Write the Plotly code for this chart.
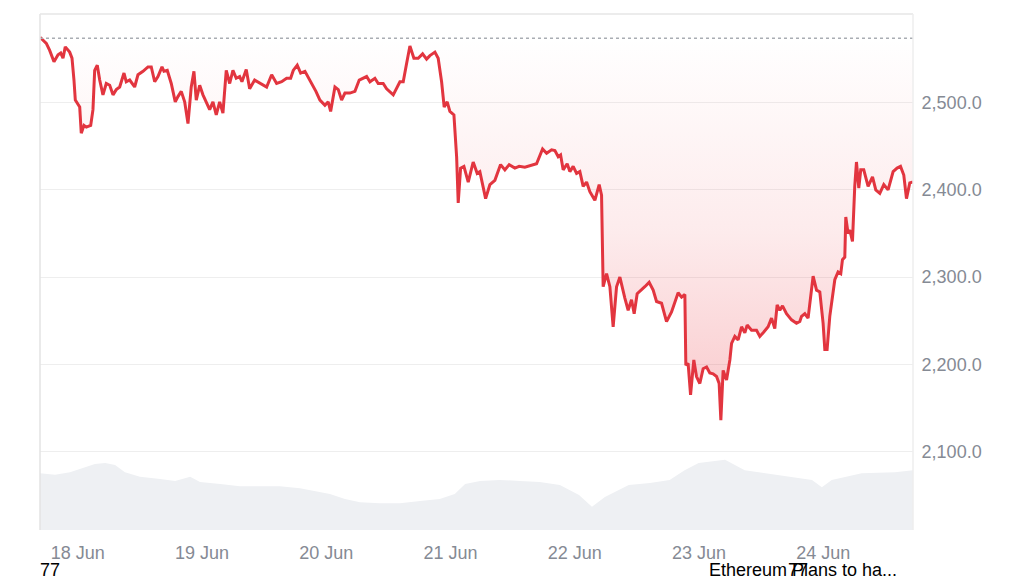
import pandas as pd
import plotly.graph_objects as go

# ---- data (ETH price, 17 Jun 16:43 -> 24 Jun ~17:20) ----
start_time = "2025-06-17 16:43"
open_price = 2574

price_hours = [0.0, 1.22, 1.87, 2.70, 3.48, 4.00, 4.44, 4.88, 5.73, 6.18, 6.56, 6.82, 7.67, 7.97, 8.50, 8.94,
               9.79, 10.23, 10.56, 11.06, 11.53, 12.16, 12.80, 13.46, 14.10, 14.73, 15.39, 16.22, 16.66, 17.32,
               18.28, 18.92, 19.89, 20.85, 21.49, 22.15, 22.78, 23.56, 23.94, 24.58, 25.35, 26.12, 26.64, 27.28,
               27.94, 28.58, 29.21, 29.73, 30.18, 30.84, 31.47, 32.11, 32.77, 33.40, 34.04, 34.70, 35.33, 35.97,
               36.63, 37.26, 37.90, 38.56, 39.00, 39.83, 40.49, 41.45, 42.42, 43.77, 44.74, 45.70, 46.67, 47.63,
               48.41, 48.91, 49.68, 50.34, 51.17, 52.13, 52.77, 53.29, 54.06, 55.03, 55.66, 56.13, 56.96, 57.60,
               58.25, 58.89, 59.85, 60.82, 61.65, 62.42, 63.08, 63.72, 64.68, 65.32, 66.28, 66.94, 68.22, 69.51,
               70.15, 70.80, 71.44, 72.21, 73.04, 73.89, 74.66, 75.30, 76.27, 76.90, 77.56, 78.06, 78.64, 79.16,
               79.94, 80.46, 80.77, 81.23, 81.87, 82.70, 83.66, 84.43, 84.95, 86.06, 86.89, 87.85, 88.95, 89.78,
               90.61, 91.71, 92.54, 93.64, 94.28, 95.25, 95.90, 97.06, 97.84, 98.80, 99.44, 100.08, 100.54,
               101.04, 101.81, 102.33, 102.97, 103.63, 104.26, 104.90, 105.56, 106.19, 107.16, 107.99, 108.45,
               108.76, 109.42, 110.06, 110.69, 111.35, 111.99, 112.95, 113.59, 114.24, 114.75, 115.33, 116.18,
               116.81, 117.64, 118.42, 119.07, 120.04, 121.00, 121.97, 123.24, 123.90, 124.54, 124.73, 125.17,
               125.64, 126.27, 126.79, 127.43, 128.07, 128.73, 129.36, 130.00, 130.66, 131.16, 131.49, 131.93,
               132.59, 133.23, 133.56, 134.19, 134.83, 135.49, 136.12, 136.57, 137.42, 138.38, 139.02, 139.79,
               140.62, 141.28, 141.91, 142.36, 142.88, 143.40, 144.17, 145.14, 146.10, 146.74, 147.07, 147.71,
               148.34, 149.31, 149.97, 150.60, 151.24, 151.57, 152.01, 152.53, 153.05, 153.50, 154.13, 154.65,
               154.98, 155.43, 155.62, 156.06, 156.39, 156.91, 157.35, 157.68, 158.13, 158.51, 159.09, 159.93,
               160.78, 161.41, 162.19, 162.96, 163.79, 164.76, 165.53, 166.19, 166.82, 167.34, 167.98, 168.60]

price_values = [2575, 2568, 2560, 2547, 2555, 2557, 2551, 2564, 2558, 2551, 2526, 2503, 2495, 2465, 2474, 2472,
                2474, 2492, 2537, 2543, 2526, 2509, 2522, 2520, 2509, 2515, 2518, 2534, 2524, 2526,
                2518, 2532, 2536, 2541, 2541, 2524, 2530, 2541, 2536, 2537, 2522, 2501, 2507, 2513,
                2501, 2476, 2518, 2536, 2503, 2520, 2509, 2501, 2492, 2501, 2486, 2501, 2488, 2537,
                2522, 2537, 2528, 2530, 2524, 2538, 2516, 2526, 2523, 2518, 2532, 2522, 2524, 2528,
                2528, 2537, 2543, 2534, 2536, 2526, 2520, 2513, 2503, 2497, 2501, 2490, 2518, 2515,
                2503, 2511, 2511, 2513, 2526, 2528, 2530, 2524, 2528, 2522, 2522, 2516, 2509, 2524,
                2524, 2545, 2565, 2551, 2551, 2556, 2550, 2554, 2558, 2551, 2524, 2495, 2501, 2490,
                2486, 2438, 2385, 2425, 2427, 2409, 2432, 2419, 2421, 2390, 2406, 2411, 2429, 2423,
                2429, 2425, 2427, 2426, 2427, 2429, 2430, 2447, 2442, 2446, 2445, 2438, 2440,
                2423, 2430, 2421, 2427, 2419, 2421, 2404, 2409, 2398, 2388, 2406, 2394,
                2289, 2304, 2289, 2243, 2289, 2300, 2276, 2262, 2274, 2258, 2281, 2285,
                2289, 2294, 2285, 2272, 2270, 2249, 2260, 2282, 2277, 2280, 2199, 2201,
                2165, 2205, 2186, 2178, 2195, 2197, 2190, 2189, 2186, 2178, 2136, 2193,
                2182, 2205, 2224, 2232, 2228, 2243, 2236, 2245, 2239, 2239, 2232, 2237,
                2243, 2253, 2241, 2268, 2262, 2267, 2258, 2251, 2247, 2249, 2255, 2258,
                2253, 2301, 2285, 2283, 2247, 2217, 2217, 2255, 2277, 2297, 2306, 2304,
                2320, 2323, 2369, 2350, 2354, 2341, 2404, 2432, 2402, 2423, 2423, 2404,
                2415, 2400, 2396, 2406, 2400, 2421, 2425, 2427, 2417, 2390, 2408, 2409]

volume_hours = [0.0, 2.9, 5.8, 8.7, 10.6, 12.6, 14.5, 16.4, 19.3, 23.2, 26.1, 29.0, 30.9, 34.8, 38.6, 42.5,
                46.3, 50.2, 53.1, 56.0, 58.9, 61.8, 65.6, 69.5, 73.4, 77.2, 80.1, 82.1, 85.0, 88.8, 92.7,
                96.5, 100.4, 104.1, 106.6, 109.1, 113.7, 117.8, 121.6, 124.5, 127.2, 132.3, 136.1, 142.7,
                149.1, 151.0, 152.9, 158.7, 165.1, 168.6]
volume_values = [11.0, 10.7, 11.2, 12.2, 12.8, 13.0, 12.6, 11.2, 10.3, 9.9, 9.5, 10.3, 9.3, 8.9, 8.5, 8.5,
                 8.5, 8.1, 7.6, 7.0, 6.0, 5.4, 5.2, 5.2, 5.6, 6.0, 7.0, 8.9, 9.5, 9.7, 9.5,
                 9.3, 8.7, 6.8, 4.5, 6.4, 8.7, 9.1, 9.7, 11.6, 13.0, 13.6, 11.6, 10.7,
                 9.7, 8.3, 9.7, 11.0, 11.2, 11.6]

price_ticks = [2100, 2200, 2300, 2400, 2500]

# ---- build ----
t0 = pd.Timestamp(start_time)
px_time = [t0 + pd.Timedelta(hours=h) for h in price_hours]
vol_time = [t0 + pd.Timedelta(hours=h) for h in volume_hours]

RED = "#e2353f"
GRAY_TXT = "#858a94"

fig = go.Figure()

fig.add_trace(go.Scatter(
    x=vol_time, y=volume_values, yaxis="y2", mode="lines",
    line=dict(width=0, color="#eef0f3"), fill="tozeroy", fillcolor="#eef0f3",
    hoverinfo="skip", showlegend=False))

fig.add_trace(go.Scatter(
    x=px_time, y=[open_price] * len(px_time), mode="lines",
    line=dict(width=0, color="rgba(0,0,0,0)"), hoverinfo="skip", showlegend=False))

fig.add_trace(go.Scatter(
    x=px_time, y=price_values, mode="lines",
    line=dict(color=RED, width=3),
    fill="tonexty",
    fillgradient=dict(type="vertical",
                      colorscale=[[0, "rgba(234,57,67,0.28)"], [0.5, "rgba(234,57,67,0.10)"],
                                  [1, "rgba(234,57,67,0.0)"]],
                      start=2130, stop=open_price),
    showlegend=False))

t_end = t0 + pd.Timedelta(hours=168.6)

# page body has an 8px margin, so the figure is drawn at (8, 8)
fig.update_layout(
    width=1016, height=568,
    margin=dict(l=32, r=111, t=6, b=46),
    paper_bgcolor="white", plot_bgcolor="white",
    font=dict(family="Liberation Sans, Arial, sans-serif", size=18, color=GRAY_TXT),
    xaxis=dict(range=[t0, t_end], showgrid=False, zeroline=False, showline=False,
               tickformat="%d %b", dtick=86400000, tick0="2025-06-18",
               ticks="outside", ticklen=6, tickcolor="rgba(0,0,0,0)",
               tickfont=dict(size=18, color=GRAY_TXT)),
    yaxis=dict(range=[2010, 2601.7], side="right", tickvals=price_ticks, tickformat=",.1f",
               showgrid=True, gridcolor="#eeeeee", gridwidth=1, zeroline=False, showline=False,
               ticks="outside", ticklen=4, tickcolor="rgba(0,0,0,0)",
               tickfont=dict(size=18, color=GRAY_TXT)),
    yaxis2=dict(range=[0, 100], overlaying="y", visible=False),
    shapes=[
        dict(type="line", xref="paper", yref="y", x0=0, x1=1, y0=open_price, y1=open_price,
             line=dict(color="#a9adb3", width=1.5, dash="dot")),
        dict(type="line", xref="paper", yref="paper", x0=0, x1=0, y0=0, y1=1,
             line=dict(color="#e3e3e3", width=1.5)),
        dict(type="line", xref="paper", yref="paper", x0=0, x1=1, y0=1, y1=1,
             line=dict(color="#e6e6e6", width=1.5)),
        dict(type="line", xref="paper", yref="paper", x0=1, x1=1, y0=0, y1=1,
             line=dict(color="#eeeeee", width=1.5)),
    ],
    annotations=[
        dict(text="77", xref="paper", yref="paper", x=-0.002, y=-0.055, xanchor="left", yanchor="top",
             showarrow=False, font=dict(size=18, color="black")),
        dict(text="Ethereum Plans to ha...", xref="paper", yref="paper", x=0.764, y=-0.055,
             xanchor="left", yanchor="top", showarrow=False, font=dict(size=18, color="black")),
        dict(text="77", xref="paper", yref="paper", x=0.8545, y=-0.055, xanchor="left", yanchor="top",
             showarrow=False, font=dict(size=18, color="black")),
    ],
)

fig.write_html("out.html")
